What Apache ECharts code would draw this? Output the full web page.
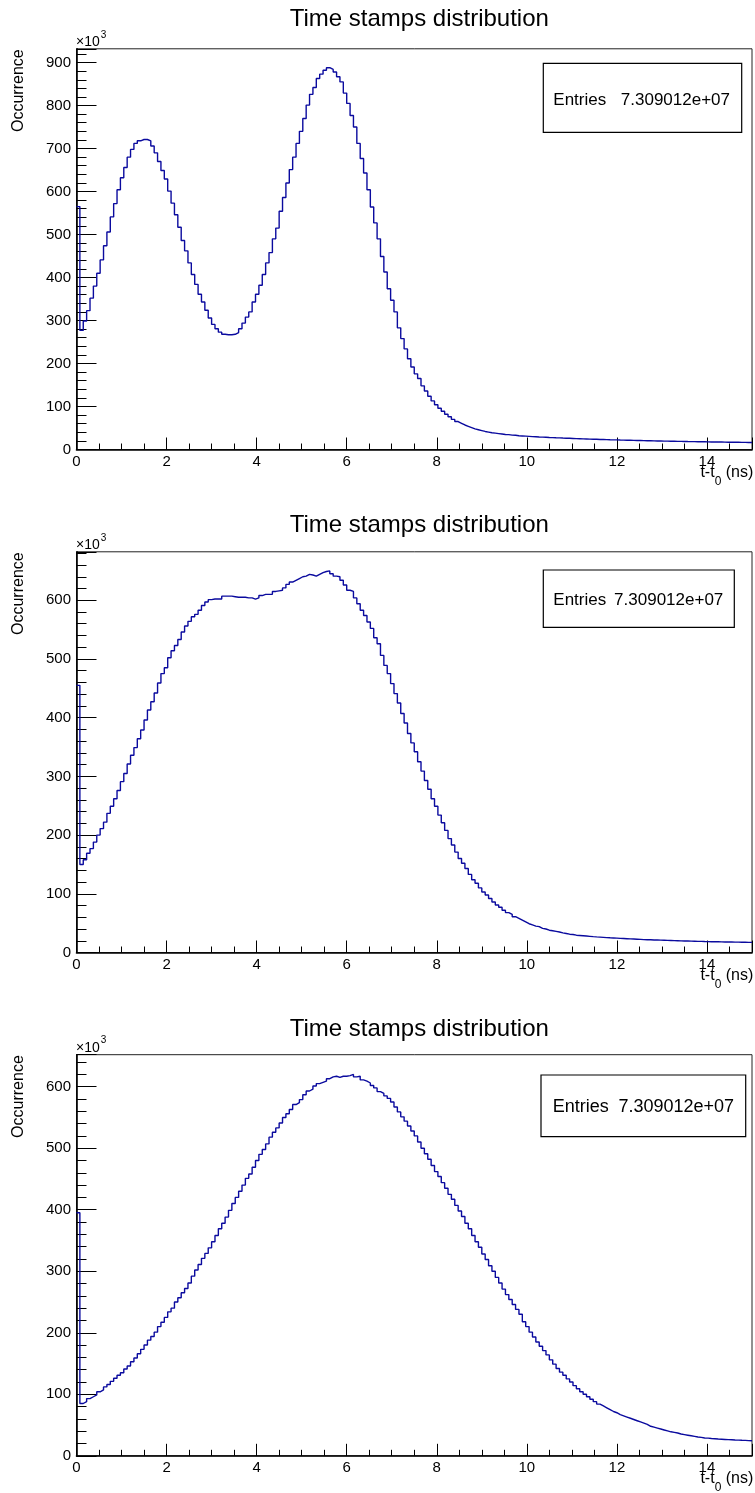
<!DOCTYPE html>
<html><head><meta charset="utf-8">
<script src="https://cdn.jsdelivr.net/npm/echarts@6/dist/echarts.min.js"></script>
<style>html,body{margin:0;padding:0;background:#fff}#c{width:755px;height:1493px}</style>
</head><body><div id="c"></div>
<script>
// ---------------- data ----------------
const BIN_WIDTH = 0.075;           // ns per bin (200 bins over 0..15 ns)
const X_MIN = 0, X_MAX = 15;
const X_MAJOR = 2, X_MINOR = 0.5;
const Y_MAJOR = 100, Y_MINOR = 20;
const Y_MAX = [932, 682.5, 652];   // axis maxima (x10^3)
const TITLE = 'Time stamps distribution';
const Y_NAME = 'Occurrence';
const X_NAME_MAIN = 't-t';
const X_NAME_SUB = '0';
const X_NAME_UNIT = ' (ns)';
const Y_EXP_BASE = '\u00d710';
const Y_EXP_POW = '3';
const ENTRIES_LABEL = 'Entries';
const ENTRIES_VALUE = '7.309012e+07';

// bin contents (x10^3)
const panel1 = [
565,277,299,323,352,380,410,441,474,506,
541,572,604,632,656,680,698,712,718,721,
721,718,706,690,670,649,629,601,573,546,
517,486,462,434,407,384,361,343,324,306,
291,281,273,268,267,267,268,272,281,294,
308,320,343,361,382,407,434,458,490,515,
554,586,620,651,680,712,740,770,801,826,
842,863,873,882,888,884,878,867,855,829,
805,777,750,712,677,643,604,564,527,490,
449,413,374,347,320,283,258,234,211,192,
176,165,148,136,124,113,104,96,89,82,
76,70,65,61,57,54,51,48,46,44,
42,40.5,39,38,37,36,35,34.5,33.5,33,
32,31.5,31,30.5,30,29.5,29,28.8,28.5,28,
27.7,27.3,27,26.6,26.3,26,25.7,25.4,25.1,24.8,
24.5,24.2,24,23.7,23.4,23.2,23,22.7,22.5,22.3,
22,21.8,21.6,21.4,21.2,21,20.8,20.6,20.4,20.2,
20,19.9,19.7,19.5,19.4,19.2,19.1,19,18.8,18.7,
18.5,18.4,18.3,18.1,18,17.9,17.8,17.6,17.5,17.4,
17.3,17.2,17,16.9,16.8,16.7,16.6,16.5,16.4,16.3
];
const panel2 = [
455,150,158,169,177,188,200,211,222,237,
249,262,276,291,305,321,336,349,364,379,
396,413,427,442,459,475,485,502,514,523,
533,546,556,564,572,576,583,591,597,601,
602,602,602,607,607,607,606,605,605,605,
604,604,602,604,608,610,610,610,615,616,
617,621,627,631,634,637,640,641,644,643,
641,644,647,649,650,645,641,640,634,626,
617,615,604,594,583,574,563,552,536,526,
506,489,475,458,441,425,407,391,373,357,
342,325,309,293,278,262,249,234,221,208,
194,183,171,160,152,143,133,124,118,110,
103,98,92,86,81,77,72,68,65,61,
58,55,52,49,47,45,44,41,40,38,
37,36,35,33.5,32.4,31.2,30.7,29.5,29,28.5,
28,27.5,27,26.6,26.2,25.8,25.4,25,24.7,24.4,
24.1,23.8,23.5,23.2,22.9,22.6,22.3,22,21.8,21.6,
21.4,21.2,21,20.8,20.6,20.4,20.2,20,19.8,19.7,
19.5,19.3,19.2,19,18.9,18.7,18.6,18.4,18.3,18.2,
18.1,18,17.9,17.8,17.7,17.6,17.5,17.4,17.3,17.2
];
const panel3 = [
395,85,88,93,96,99,104,107,112,116,
121,126,131,135,141,146,153,159,166,173,
180,188,194,201,210,217,225,234,240,250,
257,265,272,281,292,302,311,321,329,338,
348,358,369,378,388,399,410,420,430,440,
451,458,469,480,490,498,507,518,526,533,
541,550,556,563,571,574,579,587,593,596,
601,605,607,609,613,616,617,615,617,617,
618,620,616,617,611,609,606,602,598,592,
589,585,581,575,567,559,551,544,536,528,
520,510,500,491,482,472,462,454,444,435,
425,417,407,398,389,378,369,358,348,339,
328,319,309,300,290,281,271,262,254,246,
238,230,218,210,201,193,185,178,171,164,
156,149,142,136,131,125,120,114,109,104,
100,96,92,88,84,81,78,75,72,70,
67,65,63,61,59,57,55,53,51,48,
46.5,45,43.5,42,40.5,39,38,37,35.5,34.5,
33.5,32.5,31.5,30.5,30,29,28.8,28.2,27.7,27.2,
26.9,26.6,26.3,26,25.7,25.5,25.2,25,24.7,24.4
];
const panels = [panel1, panel2, panel3];

// ---------------- layout & style ----------------
const FONT = '"Liberation Sans", Arial, Helvetica, sans-serif';
const LINE_COLOR = '#0a0a9e';
const GRID_LEFT = 76.5, GRID_WIDTH = 677;
const GRID_TOP = [48.8, 551.8, 1054.7];
const GRID_HEIGHT = [400.7, 400.7, 401.1];
const TITLE_X = 414.3;
const TITLE_TOP = [2, 508, 1012];
const BOXES = [
  {x: 543.3, y: 63.3, w: 198.4, h: 69, tx: 553.3, tr: 730, ty: 100.2, fs: 17},
  {x: 543.3, y: 570, w: 191, h: 57.3, tx: 553.3, tr: 723.3, ty: 600.2, fs: 17},
  {x: 541, y: 1075, w: 204.7, h: 61.7, tx: 552.7, tr: 734, ty: 1107, fs: 18}
];

function histData(vals) {
  const d = vals.map((v, i) => [i * BIN_WIDTH, v]);
  d.push([X_MAX, vals[vals.length - 1]]);
  return d;
}

const ctx = document.createElement('canvas').getContext('2d');
function tw(text, size) { ctx.font = size + 'px ' + FONT; return ctx.measureText(text).width; }

const grid = [], xAxis = [], yAxis = [], series = [], title = [], elements = [];
panels.forEach((vals, p) => {
  const top = GRID_TOP[p], h = GRID_HEIGHT[p], bottom = top + h;
  grid.push({left: GRID_LEFT, top: top, width: GRID_WIDTH, height: h, show: true,
    borderColor: '#222', borderWidth: 1, backgroundColor: 'transparent'});
  // major x
  xAxis.push({gridIndex: p, type: 'value', min: X_MIN, max: X_MAX, interval: X_MAJOR, position: 'bottom',
    axisLine: {show: true, onZero: false, lineStyle: {color: '#000', width: 1.6}},
    axisTick: {show: true, inside: true, length: 12, lineStyle: {color: '#000', width: 1}},
    axisLabel: {show: true, margin: 4.5, fontSize: 15, color: '#000', fontFamily: FONT,
      formatter: v => (Math.abs(v / X_MAJOR - Math.round(v / X_MAJOR)) < 1e-6 ? String(v) : '')},
    splitLine: {show: false}});
  // minor x
  xAxis.push({gridIndex: p, type: 'value', min: X_MIN, max: X_MAX, interval: X_MINOR, position: 'bottom',
    axisLine: {show: false, onZero: false}, axisLabel: {show: false}, splitLine: {show: false},
    axisTick: {show: true, inside: true, length: 6, lineStyle: {color: '#000', width: 1}}});
  // major y
  yAxis.push({gridIndex: p, type: 'value', min: 0, max: Y_MAX[p], interval: Y_MAJOR, position: 'left',
    axisLine: {show: true, onZero: false, lineStyle: {color: '#000', width: 1.6}},
    axisTick: {show: true, inside: true, length: 20, lineStyle: {color: '#000', width: 1}},
    axisLabel: {show: true, margin: 5.5, fontSize: 15, color: '#000', fontFamily: FONT,
      formatter: v => (Math.abs(v / Y_MAJOR - Math.round(v / Y_MAJOR)) < 1e-6 ? String(v) : '')},
    splitLine: {show: false}});
  // minor y
  yAxis.push({gridIndex: p, type: 'value', min: 0, max: Y_MAX[p], interval: Y_MINOR, position: 'left',
    axisLine: {show: false, onZero: false}, axisLabel: {show: false}, splitLine: {show: false},
    axisTick: {show: true, inside: true, length: 10, lineStyle: {color: '#000', width: 1}}});
  series.push({type: 'line', name: TITLE + ' ' + (p + 1), xAxisIndex: 2 * p, yAxisIndex: 2 * p,
    data: histData(vals), step: 'end', showSymbol: false, symbol: 'none', silent: true,
    lineStyle: {color: LINE_COLOR, width: 1.4}, animation: false, z: 3});
  title.push({text: TITLE, left: TITLE_X, top: TITLE_TOP[p], textAlign: 'center',
    textStyle: {fontSize: 24, fontWeight: 'normal', color: '#000', fontFamily: FONT}});

  // y axis name (rotated)
  elements.push({type: 'text', x: 19, y: top + 0.5, rotation: Math.PI / 2, z: 10,
    style: {text: Y_NAME, fontSize: 16, fontFamily: FONT, fill: '#000',
      align: 'right', verticalAlign: 'middle', textAlign: 'right', textVerticalAlign: 'middle'}});
  // x10^3
  elements.push({type: 'text', x: GRID_LEFT - 0.5, y: top - 6.3, z: 10,
    style: {text: Y_EXP_BASE, fontSize: 14, fontFamily: FONT, fill: '#000',
      align: 'left', verticalAlign: 'middle', textAlign: 'left', textVerticalAlign: 'middle'}});
  elements.push({type: 'text', x: GRID_LEFT - 0.5 + tw(Y_EXP_BASE, 14) + 1, y: top - 14, z: 10,
    style: {text: Y_EXP_POW, fontSize: 10, fontFamily: FONT, fill: '#000',
      align: 'left', verticalAlign: 'middle', textAlign: 'left', textVerticalAlign: 'middle'}});
  // x axis name t-t0 (ns), below the last tick label
  const xr = 753.3;
  const wUnit = tw(X_NAME_UNIT, 16), wSub = tw(X_NAME_SUB, 12);
  elements.push({type: 'text', x: xr, y: bottom + 23, z: 10,
    style: {text: X_NAME_UNIT, fontSize: 16, fontFamily: FONT, fill: '#000',
      align: 'right', verticalAlign: 'middle', textAlign: 'right', textVerticalAlign: 'middle'}});
  elements.push({type: 'text', x: xr - wUnit, y: bottom + 32, z: 10,
    style: {text: X_NAME_SUB, fontSize: 12, fontFamily: FONT, fill: '#000',
      align: 'right', verticalAlign: 'middle', textAlign: 'right', textVerticalAlign: 'middle'}});
  elements.push({type: 'text', x: xr - wUnit - wSub, y: bottom + 23, z: 10,
    style: {text: X_NAME_MAIN, fontSize: 16, fontFamily: FONT, fill: '#000',
      align: 'right', verticalAlign: 'middle', textAlign: 'right', textVerticalAlign: 'middle'}});
  // stats box
  const b = BOXES[p];
  elements.push({type: 'rect', z: 20, shape: {x: b.x, y: b.y, width: b.w, height: b.h},
    style: {fill: '#fff', stroke: '#000', lineWidth: 1.2}});
  elements.push({type: 'text', x: b.tx, y: b.ty, z: 21,
    style: {text: ENTRIES_LABEL, fontSize: b.fs, fontFamily: FONT, fill: '#000',
      align: 'left', verticalAlign: 'middle', textAlign: 'left', textVerticalAlign: 'middle'}});
  elements.push({type: 'text', x: b.tr, y: b.ty, z: 21,
    style: {text: ENTRIES_VALUE, fontSize: b.fs, fontFamily: FONT, fill: '#000',
      align: 'right', verticalAlign: 'middle', textAlign: 'right', textVerticalAlign: 'middle'}});
});

const chart = echarts.init(document.getElementById('c'), null, {renderer: 'canvas', width: 755, height: 1493});
chart.setOption({
  animation: false,
  backgroundColor: '#fff',
  title: title,
  grid: grid,
  xAxis: xAxis,
  yAxis: yAxis,
  series: series,
  graphic: {elements: elements}
});
</script>
</body></html>
